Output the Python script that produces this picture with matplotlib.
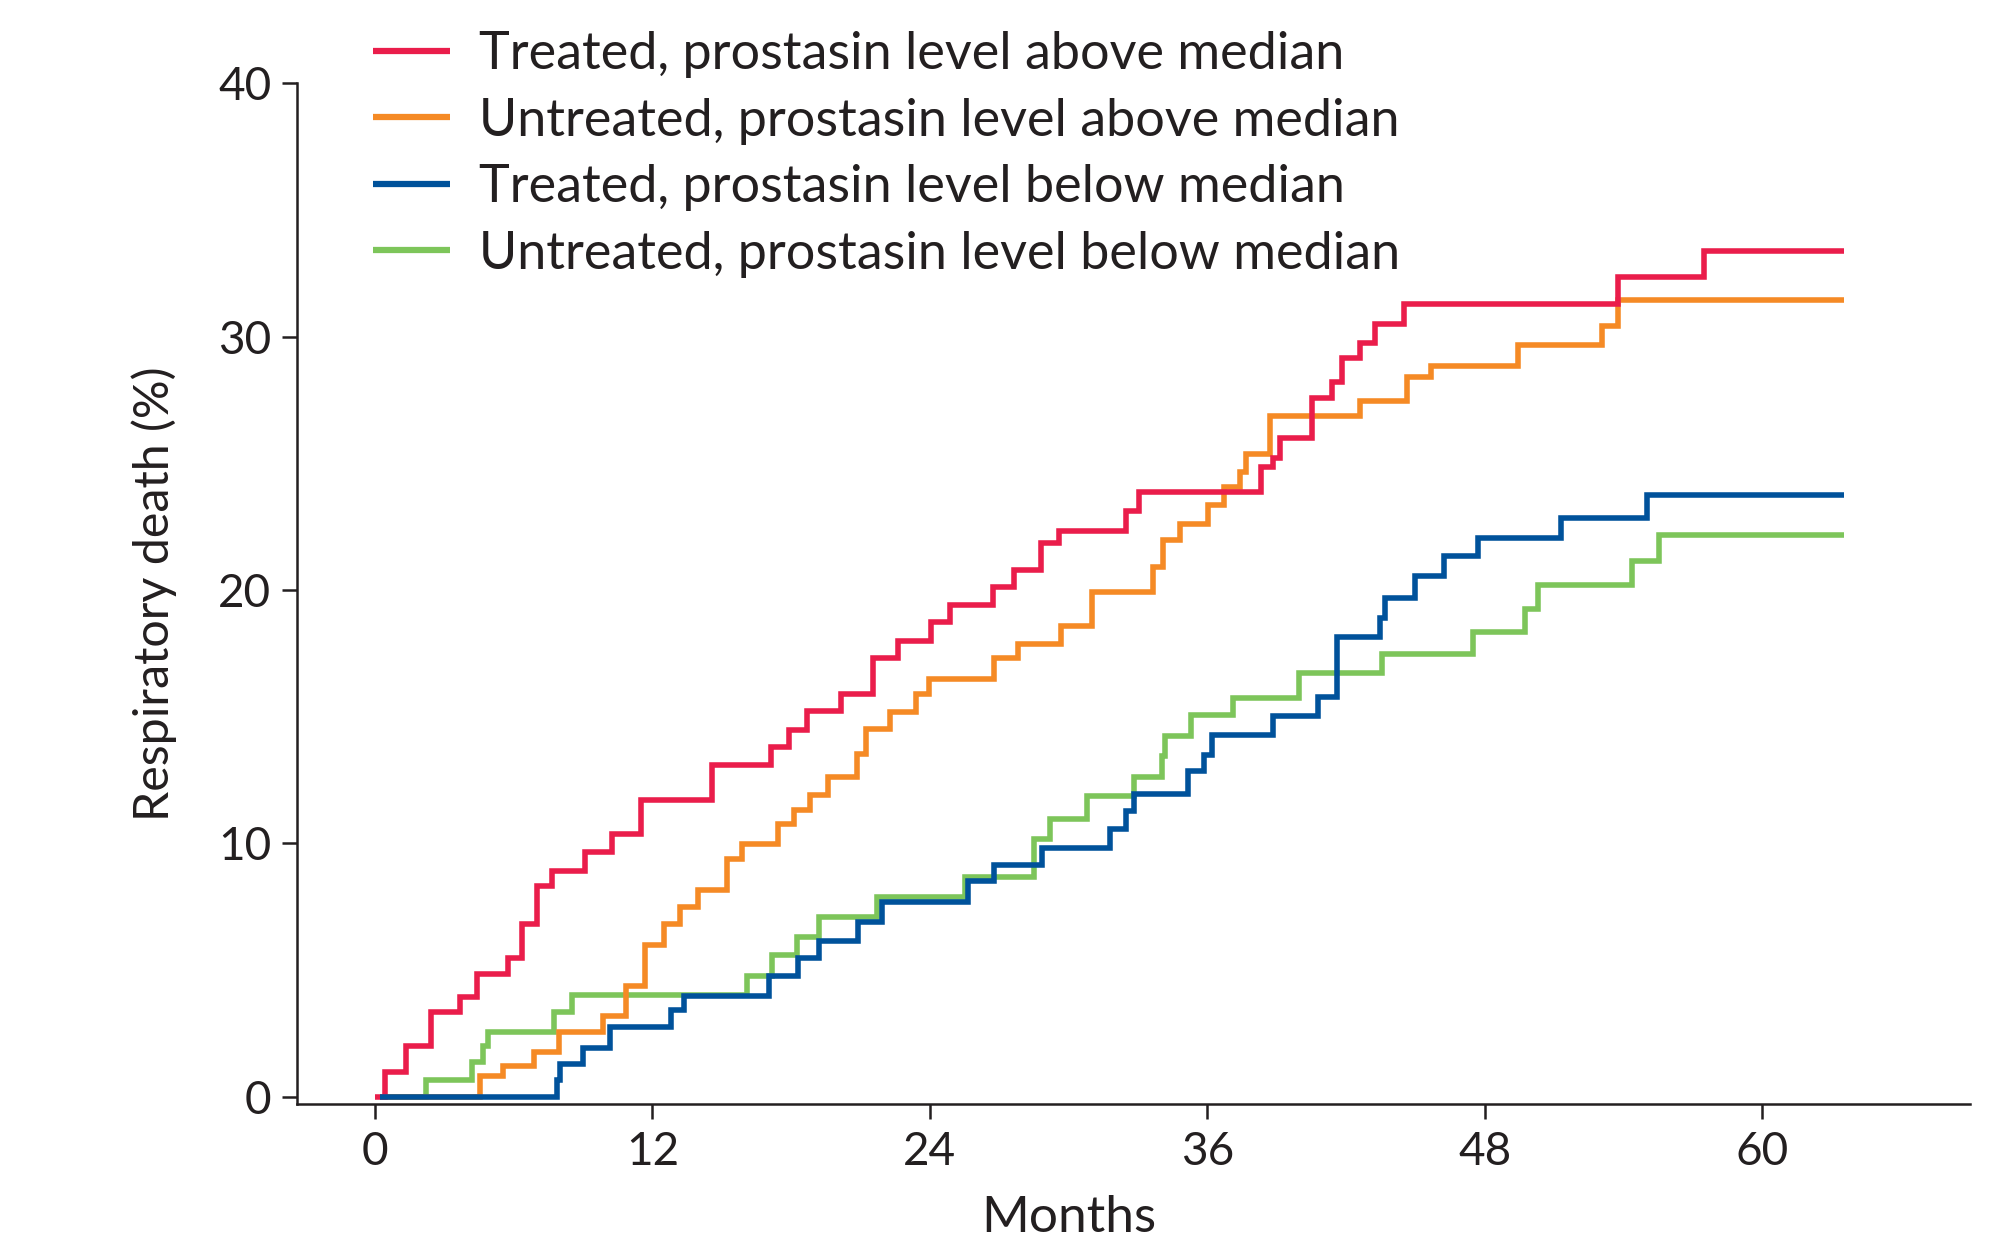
import matplotlib
matplotlib.use("Agg")
import matplotlib.pyplot as plt

plt.rcParams['font.family'] = ['Lato', 'DejaVu Sans']

TEXT = '#231F20'

# ---- data (step change points: months, cumulative % respiratory death) ----
labels = [
    "Treated, prostasin level above median",
    "Untreated, prostasin level above median",
    "Treated, prostasin level below median",
    "Untreated, prostasin level below median",
]
colors = ['#EA1D4B', '#F58A25', '#00529B', '#7DC55A']

t_treated_above = [0, 0.45, 1.34, 2.42, 3.68, 4.4, 5.74, 6.37, 6.99, 7.64, 9.08, 10.24, 11.5,
                   14.6, 17.11, 17.92, 18.67, 20.14, 21.53, 22.63, 24.05, 24.87, 26.74, 27.65,
                   28.8, 29.6, 32.48, 33.03, 38.32, 38.83, 39.14, 40.51, 41.41, 41.81, 42.6,
                   43.25, 44.51, 53.78, 57.48, 63.55]
y_treated_above = [0, 0.97, 2.0, 3.33, 3.94, 4.84, 5.46, 6.8, 8.32, 8.9, 9.67, 10.36, 11.73,
                   13.1, 13.81, 14.48, 15.24, 15.89, 17.33, 18.0, 18.73, 19.41, 20.11, 20.8,
                   21.86, 22.34, 23.13, 23.86, 24.84, 25.22, 26.01, 27.57, 28.21, 29.17, 29.77,
                   30.49, 31.29, 32.35, 33.39, 33.39]

t_untreated_above = [0.2, 4.54, 5.52, 6.89, 7.97, 9.85, 10.84, 11.68, 12.51, 13.19, 13.96, 15.21,
                     15.86, 17.45, 18.14, 18.8, 19.6, 20.83, 21.24, 22.27, 23.39, 23.96, 26.79,
                     27.83, 29.66, 31.03, 33.64, 34.1, 34.82, 36.04, 36.72, 37.41, 37.67, 38.71,
                     42.6, 44.65, 45.67, 49.45, 53.06, 53.75, 63.55]
y_untreated_above = [0, 0.83, 1.2, 1.77, 2.57, 3.19, 4.38, 6.0, 6.83, 7.49, 8.15, 9.4,
                     9.97, 10.75, 11.33, 11.9, 12.62, 13.54, 14.52, 15.2, 15.89, 16.5, 17.33,
                     17.87, 18.59, 19.91, 20.9, 21.96, 22.6, 23.35, 24.08, 24.66, 25.37, 26.86,
                     27.46, 28.4, 28.86, 29.67, 30.42, 31.44, 31.44]

t_treated_below = [0.2, 7.86, 8.0, 9.01, 10.16, 12.79, 13.36, 17.04, 18.28, 19.22, 20.88, 21.92,
                   25.66, 26.79, 28.86, 31.79, 32.48, 32.84, 35.18, 35.86, 36.21, 38.83, 40.8,
                   41.6, 43.47, 43.68, 44.98, 46.25, 47.72, 51.28, 55.0, 63.55]
y_treated_below = [0, 0.67, 1.3, 1.93, 2.75, 3.41, 3.98, 4.77, 5.49, 6.13, 6.88, 7.69,
                   8.52, 9.16, 9.81, 10.57, 11.28, 11.94, 12.85, 13.5, 14.29, 15.04, 15.77,
                   18.16, 18.91, 19.7, 20.54, 21.35, 22.07, 22.86, 23.77, 23.77]

t_untreated_below = [0.2, 2.19, 4.18, 4.66, 4.87, 7.74, 8.53, 16.08, 17.16, 18.27, 19.22, 21.7,
                     25.52, 28.52, 29.2, 30.82, 32.84, 34.05, 34.17, 35.28, 37.13, 39.98, 43.54,
                     47.5, 49.74, 50.32, 54.35, 55.55, 63.55]
y_untreated_below = [0, 0.67, 1.36, 2.0, 2.57, 3.36, 4.02, 4.78, 5.58, 6.32, 7.08, 7.88,
                     8.67, 10.19, 10.95, 11.87, 12.62, 13.46, 14.25, 15.06, 15.74, 16.71, 17.47,
                     18.35, 19.25, 20.21, 21.15, 22.19, 22.19]

x_ticks = [0, 12, 24, 36, 48, 60]
y_ticks = [0, 10, 20, 30, 40]

series = [
    (t_treated_above, y_treated_above),
    (t_untreated_above, y_untreated_above),
    (t_treated_below, y_treated_below),
    (t_untreated_below, y_untreated_below),
]
zorders = [4, 3, 5, 2]

# ---- figure ----
W, H = 1989, 1241
fig = plt.figure(figsize=(W / 100, H / 100), dpi=100)
ax = fig.add_axes([297 / W, 1 - 1104 / H, (1970 - 297) / W, (1104 - 83.5) / H])

handles = []
for (t, y), c, lab, z in zip(series, colors, labels, zorders):
    h, = ax.step(t, y, where='post', color=c, lw=4.0, label=lab, zorder=z,
                 solid_joinstyle='miter', solid_capstyle='butt')
    handles.append(h)

ax.set_xlim(-3.37, 68.99)
ax.set_ylim(-0.29, 40)
ax.set_xticks(x_ticks)
ax.set_yticks(y_ticks)
ax.set_xticklabels([str(v) for v in x_ticks])
ax.set_yticklabels([str(v) for v in y_ticks])

for side in ['top', 'right']:
    ax.spines[side].set_visible(False)
for side in ['left', 'bottom']:
    ax.spines[side].set_linewidth(1.8)
    ax.spines[side].set_color(TEXT)

ax.tick_params(axis='both', direction='out', length=10.5, width=1.8, color=TEXT,
               labelcolor=TEXT, labelsize=33)
ax.tick_params(axis='y', pad=7.9)
ax.tick_params(axis='x', pad=9)

ax.set_xlabel('Months', fontsize=37, color=TEXT)
ax.xaxis.set_label_coords((30 + 3.37) / (68.99 + 3.37), -(1195 - 1104) / (1104 - 83.5))
ax.set_ylabel('Respiratory death (%)', fontsize=34.8, color=TEXT)
ax.yaxis.set_label_coords((177 - 297) / (1970 - 297), 0.5)

leg = fig.legend(handles=handles, loc='upper left',
                 bbox_to_anchor=(373 / W, 1 - 31 / H),
                 frameon=False, fontsize=37.5, labelcolor=TEXT,
                 handlelength=1.48, handletextpad=0.55, labelspacing=0.375,
                 borderpad=0, borderaxespad=0)
for lh in leg.get_lines():
    lh.set_linewidth(4.5)

fig.savefig('out.png', dpi=100)
